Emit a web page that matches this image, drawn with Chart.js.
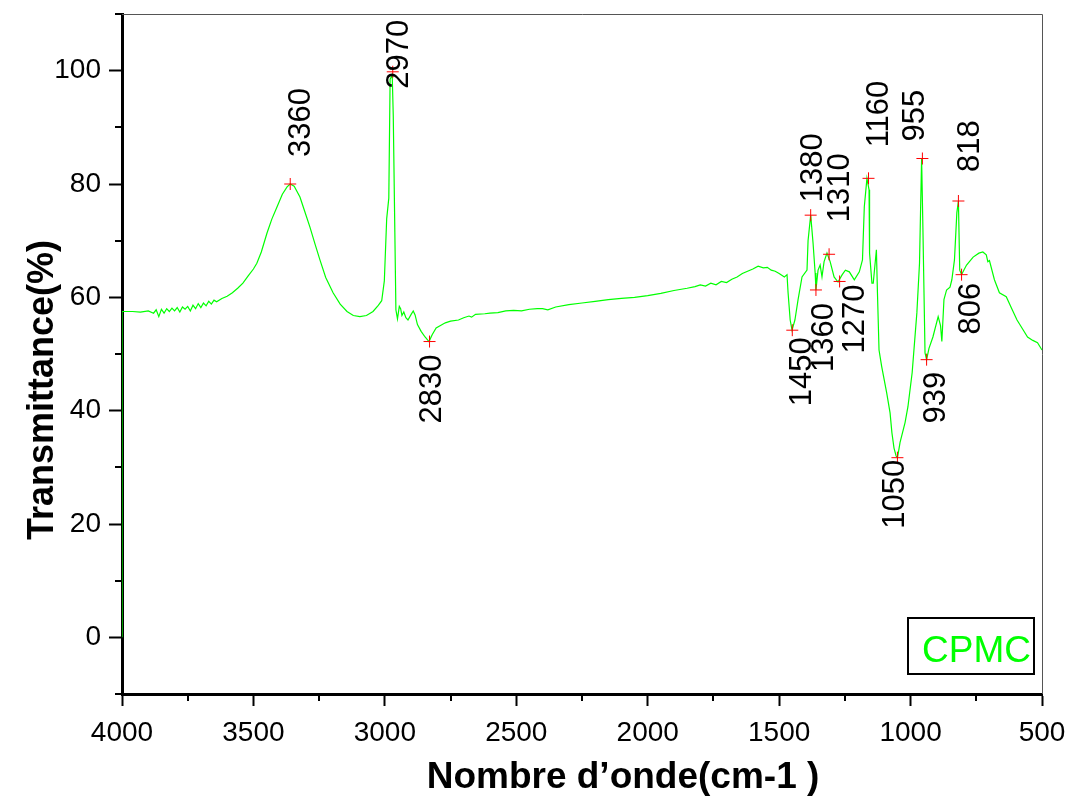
<!DOCTYPE html>
<html>
<head>
<meta charset="utf-8">
<script src="https://cdn.jsdelivr.net/npm/chart.js@4.4.1/dist/chart.umd.min.js"></script>
<style>
  body { margin: 0; background: #fff; }
  canvas { display: block; }
</style>
</head>
<body>
<canvas id="ftirChart" width="1070" height="805"></canvas>
<script>
// spectrum (cm-1 / %)
const waveNumbers = [
  4000, 4000, 3960, 3930, 3900, 3880, 3870, 3860, 3850, 3840, 3830, 3820, 3810, 3800, 3790, 3780,
  3770, 3760, 3750, 3740, 3730, 3720, 3710, 3700, 3690, 3680, 3670, 3660, 3650, 3640, 3620, 3600,
  3580, 3560, 3540, 3520, 3500, 3487, 3470, 3448, 3430, 3410, 3390, 3372, 3360, 3345, 3323, 3305,
  3285, 3265, 3247, 3225, 3197, 3170, 3144, 3120, 3095, 3070, 3045, 3025, 3012, 3002, 2993, 2985,
  2980, 2972, 2968, 2962, 2958, 2952, 2945, 2940, 2935, 2928, 2920, 2912, 2900, 2892, 2885, 2876,
  2862, 2847, 2832, 2820, 2805, 2790, 2770, 2750, 2720, 2700, 2680, 2670, 2655, 2620, 2600, 2570,
  2540, 2510, 2480, 2450, 2420, 2400, 2380, 2350, 2300, 2250, 2200, 2150, 2100, 2050, 2000, 1950,
  1900, 1850, 1820, 1800, 1780, 1760, 1740, 1720, 1700, 1680, 1660, 1640, 1620, 1600, 1580, 1560,
  1545, 1530, 1515, 1500, 1480, 1470, 1466, 1458, 1451, 1440, 1428, 1413, 1394, 1390, 1380, 1371,
  1363, 1360, 1352, 1344, 1337, 1329, 1318, 1306, 1291, 1276, 1260, 1248, 1233, 1214, 1195, 1183,
  1176, 1166, 1158, 1156, 1147, 1142, 1130, 1126, 1120, 1110, 1091, 1078, 1071, 1063, 1055, 1050,
  1045, 1040, 1021, 1010, 994, 976, 966, 958, 953, 945, 939, 930, 915, 895, 886, 881,
  873, 863, 850, 843, 833, 824, 818, 813, 806, 795, 787, 762, 740, 725, 712, 706,
  700, 681, 662, 636, 615, 595, 575, 555, 535, 517, 500
];
const transmittance = [
  0, 57.5, 57.5, 57.4, 57.6, 57.2, 57.8, 56.6, 57.9, 57.2, 58.0, 57.5, 58.1, 57.6, 58.2, 57.4,
  58.3, 57.9, 58.4, 57.6, 58.6, 58.0, 58.9, 58.2, 59.0, 58.5, 59.3, 58.8, 59.5, 59.2, 59.8, 60.2,
  60.8, 61.6, 62.5, 63.8, 65.0, 66.0, 68.0, 71.4, 73.8, 76.0, 78.2, 79.5, 80.0, 79.6, 77.7, 75.2,
  72.4, 69.3, 66.6, 63.5, 60.8, 58.8, 57.5, 56.8, 56.6, 56.8, 57.5, 58.6, 59.4, 62.9, 73.9, 77.5,
  98.5, 99.2, 92.0, 71.5, 57.8, 56.2, 58.4, 58.0, 56.8, 57.4, 56.4, 56.0, 57.0, 57.6, 56.9, 55.2,
  54.0, 53.0, 52.2, 53.4, 54.6, 55.0, 55.5, 55.8, 56.0, 56.4, 56.7, 56.5, 57.0, 57.1, 57.2, 57.3,
  57.6, 57.7, 57.6, 57.9, 58.0, 58.0, 57.8, 58.3, 58.7, 59.0, 59.3, 59.6, 59.8, 60.0, 60.3, 60.7,
  61.2, 61.6, 61.9, 62.2, 62.0, 62.5, 62.2, 62.8, 62.6, 63.2, 63.6, 64.2, 64.6, 65.0, 65.5, 65.2,
  65.3, 64.8, 64.6, 64.2, 63.6, 64.0, 60.8, 56.0, 54.2, 56.0, 59.6, 63.6, 64.8, 70.0, 74.5, 69.6,
  64.3, 61.3, 64.8, 65.7, 63.6, 66.3, 67.8, 66.3, 63.6, 62.7, 64.0, 64.8, 64.5, 63.1, 64.5, 66.6,
  76.0, 81.0, 79.0, 67.8, 62.5, 62.5, 68.4, 60.8, 50.7, 47.8, 43.2, 39.6, 36.1, 33.4, 32.0, 31.7,
  33.0, 34.4, 37.9, 40.7, 46.7, 57.3, 66.0, 84.5, 72.0, 50.2, 49.0, 51.0, 53.0, 56.6, 55.0, 52.2,
  59.6, 61.3, 61.8, 63.1, 66.6, 74.9, 77.0, 64.8, 64.0, 65.0, 65.7, 67.1, 67.8, 68.0, 67.5, 66.3,
  66.5, 63.1, 60.8, 60.1, 58.0, 56.0, 54.5, 53.0, 52.4, 52.0, 50.7
];

// picked peaks
const peakWaveNumbers = [3360, 2970, 2830, 1450, 1380, 1360, 1310, 1270, 1160, 1050, 955, 939, 818, 806];
const peakValues = [80, 99.8, 52.2, 54.2, 74.5, 61.3, 67.6, 62.8, 81, 31.7, 84.5, 49, 77, 64];
const peakLabels = ['3360', '2970', '2830', '1450', '1380', '1360', '1310', '1270', '1160', '1050', '955', '939', '818', '806'];

const xTicks = [4000, 3500, 3000, 2500, 2000, 1500, 1000, 500];
const xMinorTicks = [3750, 3250, 2750, 2250, 1750, 1250, 750];
const yTicks = [0, 20, 40, 60, 80, 100];
const yMinorTicks = [-10, 10, 30, 50, 70, 90, 110];

const sampleName = 'CPMC';
const xTitle = 'Nombre d\u2019onde(cm-1 )';
const yTitle = 'Transmittance(%)';

// label placement next to each peak marker (px): up = text above the cross
const labelPlacement = [
  { dx: 9, dy: -27, up: true }, { dx: 4, dy: 17, up: true }, { dx: 0, dy: 13, up: false },
  { dx: 8, dy: 7, up: false }, { dx: 0, dy: -13, up: true }, { dx: 6, dy: 13, up: false },
  { dx: 9, dy: -32, up: true }, { dx: 13, dy: 3, up: false }, { dx: 8, dy: -31, up: true },
  { dx: -4, dy: 2, up: false }, { dx: -9, dy: -17, up: true }, { dx: 7, dy: 12, up: false },
  { dx: 10, dy: -29, up: true }, { dx: 7, dy: 8, up: false }
];

const FONT = '"Liberation Sans", Arial, sans-serif';
const GREEN = '#00ff00';

const decorPlugin = {
  id: 'decor',
  afterDraw(chart) {
    const ctx = chart.ctx;
    const area = chart.chartArea;
    const xs = chart.scales.x;
    const ys = chart.scales.y;
    ctx.save();

    // thin top / right frame
    ctx.strokeStyle = '#555';
    ctx.lineWidth = 1;
    ctx.beginPath();
    ctx.moveTo(area.left, area.top + 0.5);
    ctx.lineTo(area.right + 0.5, area.top + 0.5);
    ctx.lineTo(area.right + 0.5, area.bottom);
    ctx.stroke();

    // minor ticks
    ctx.strokeStyle = '#000';
    ctx.lineWidth = 2;
    ctx.beginPath();
    yMinorTicks.forEach(v => {
      const y = Math.round(ys.getPixelForValue(v));
      ctx.moveTo(area.left - 7, y);
      ctx.lineTo(area.left, y);
    });
    xMinorTicks.forEach(v => {
      const x = Math.round(xs.getPixelForValue(v));
      ctx.moveTo(x, area.bottom);
      ctx.lineTo(x, area.bottom + 7);
    });
    ctx.stroke();

    // peak labels
    ctx.fillStyle = '#000';
    ctx.font = '31px ' + FONT;
    ctx.textBaseline = 'alphabetic';
    peakLabels.forEach((txt, i) => {
      const p = labelPlacement[i];
      const mx = xs.getPixelForValue(peakWaveNumbers[i]);
      const my = ys.getPixelForValue(peakValues[i]);
      ctx.save();
      ctx.translate(mx + p.dx + 11, my + p.dy);
      ctx.rotate(-Math.PI / 2);
      ctx.textAlign = p.up ? 'left' : 'right';
      ctx.fillText(txt, 0, 0);
      ctx.restore();
    });

    // axis titles
    ctx.font = 'bold 37px ' + FONT;
    ctx.textAlign = 'center';
    ctx.fillText(xTitle, 623, 788);
    ctx.save();
    ctx.translate(53, 390);
    ctx.rotate(-Math.PI / 2);
    ctx.font = 'bold 36px ' + FONT;
    ctx.fillText(yTitle, 0, 0);
    ctx.restore();

    // sample box
    const bx = area.right - 134, by = area.bottom - 76;
    ctx.strokeStyle = '#000';
    ctx.lineWidth = 2;
    ctx.strokeRect(bx, by, 126, 56);
    ctx.fillStyle = GREEN;
    ctx.font = '37px ' + FONT;
    ctx.textAlign = 'left';
    ctx.fillText(sampleName, bx + 14, by + 44);

    ctx.restore();
  }
};

const spectrum = waveNumbers.map((w, i) => ({ x: w, y: transmittance[i] }));
const peaks = peakWaveNumbers.map((w, i) => ({ x: w, y: peakValues[i] }));

new Chart(document.getElementById('ftirChart'), {
  type: 'scatter',
  data: {
    datasets: [
      {
        data: peaks,
        showLine: false,
        pointStyle: 'cross',
        pointRadius: 6,
        pointBorderColor: '#ff0000',
        pointBorderWidth: 1,
        pointBackgroundColor: '#ff0000',
        order: 0
      },
      {
        data: spectrum,
        showLine: true,
        borderColor: GREEN,
        borderWidth: 1.2,
        pointRadius: 0,
        tension: 0,
        order: 1
      }
    ]
  },
  options: {
    responsive: false,
    animation: false,
    events: [],
    layout: { padding: { left: 0, right: 28, top: 14, bottom: 0 } },
    plugins: { legend: { display: false }, tooltip: { enabled: false } },
    scales: {
      x: {
        type: 'linear',
        reverse: true,
        min: 500,
        max: 4000,
        afterBuildTicks: s => { s.ticks = xTicks.map(v => ({ value: v })); },
        afterFit: s => { s.height = 111; s.paddingLeft = 0; s.paddingRight = 0; },
        border: { display: true, color: '#000', width: 3 },
        grid: { drawOnChartArea: false, drawTicks: true, tickLength: 12, tickWidth: 2, tickColor: '#000' },
        ticks: { color: '#000', font: { family: FONT, size: 28 }, padding: 10, maxRotation: 0, callback: v => String(v) }
      },
      y: {
        type: 'linear',
        min: -10,
        max: 110,
        afterBuildTicks: s => { s.ticks = yTicks.map(v => ({ value: v })); },
        afterFit: s => { s.width = 122; s.paddingTop = 0; s.paddingBottom = 0; },
        border: { display: true, color: '#000', width: 3 },
        grid: { drawOnChartArea: false, drawTicks: true, tickLength: 13, tickWidth: 2, tickColor: '#000' },
        ticks: { color: '#000', font: { family: FONT, size: 28 }, padding: 8, callback: v => String(v) }
      }
    }
  },
  plugins: [decorPlugin]
});
</script>
</body>
</html>
